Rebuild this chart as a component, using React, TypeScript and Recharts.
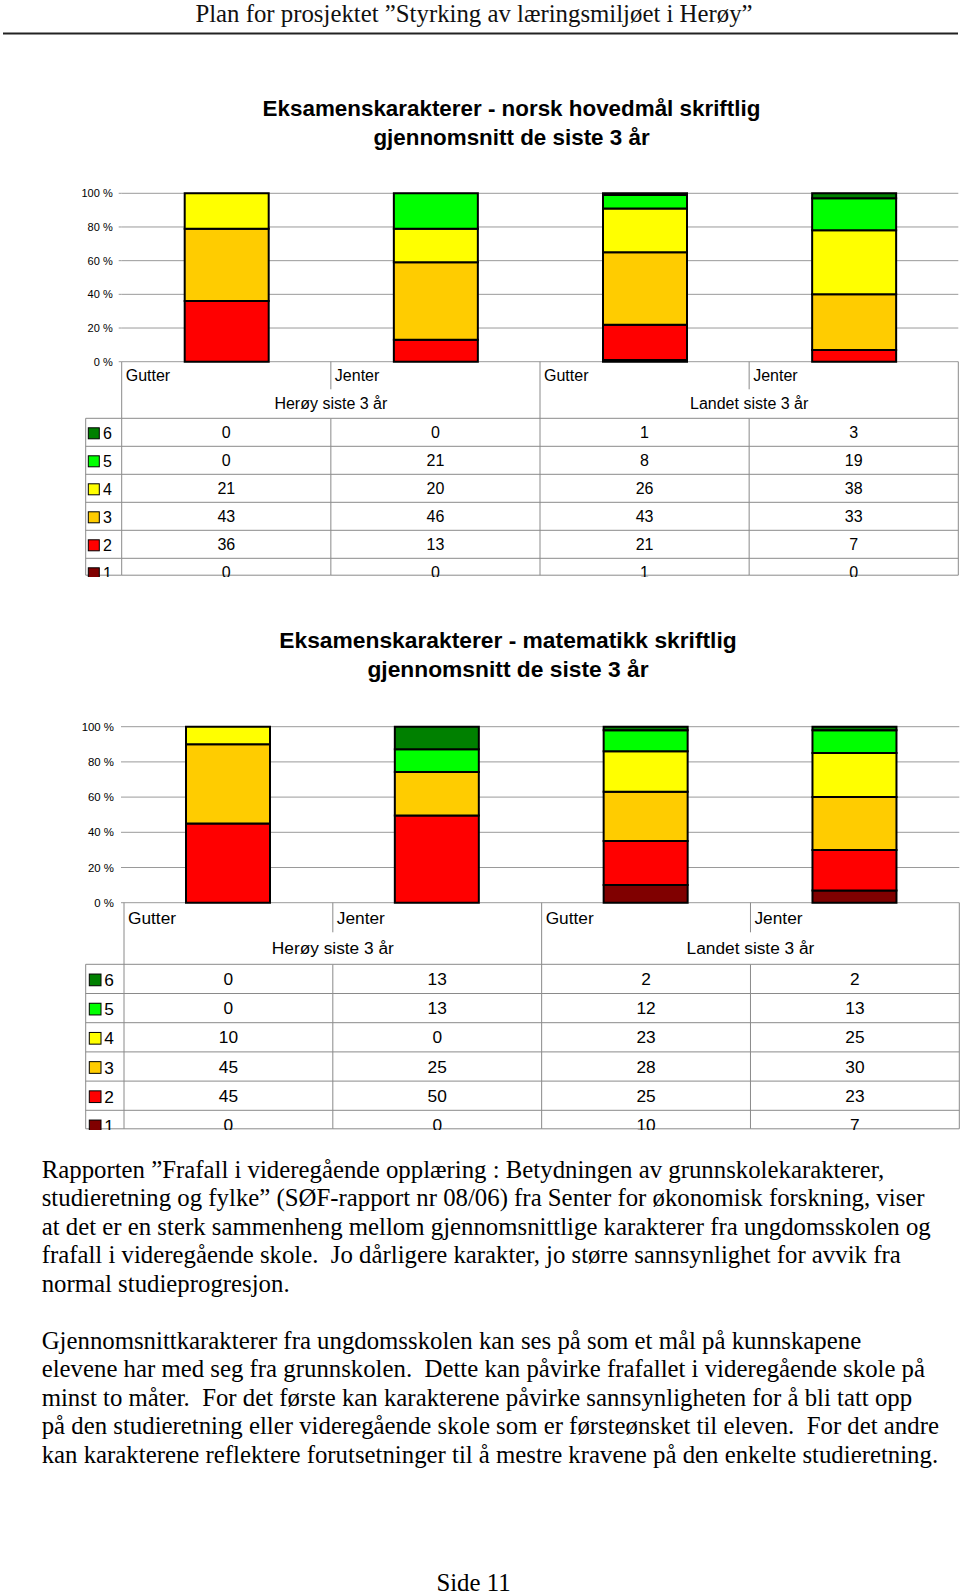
import React from 'react';
import { BarChart, Bar, XAxis, YAxis, CartesianGrid } from 'recharts';

// ---------- data ----------
const categories = ['Gutter', 'Jenter', 'Gutter', 'Jenter'];
const groups = ['Herøy siste 3 år', 'Landet siste 3 år'];
const grades = ['6', '5', '4', '3', '2', '1'];
const yTicks = [0, 0.2, 0.4, 0.6, 0.8, 1];

// Norsk hovedmål skriftlig (per grade, per category)
const norsk6 = [0, 0, 1, 3];
const norsk5 = [0, 21, 8, 19];
const norsk4 = [21, 20, 26, 38];
const norsk3 = [43, 46, 43, 33];
const norsk2 = [36, 13, 21, 7];
const norsk1 = [0, 0, 1, 0];

// Matematikk skriftlig
const matte6 = [0, 13, 2, 2];
const matte5 = [0, 13, 12, 13];
const matte4 = [10, 0, 23, 25];
const matte3 = [45, 25, 28, 30];
const matte2 = [45, 50, 25, 23];
const matte1 = [0, 0, 10, 7];

const headerText = 'Plan for prosjektet \u201DStyrking av læringsmiljøet i Herøy\u201D';
const title1 = ['Eksamenskarakterer - norsk hovedmål skriftlig', 'gjennomsnitt de siste 3 år'];
const title2 = ['Eksamenskarakterer - matematikk skriftlig', 'gjennomsnitt de siste 3 år'];
const para1 = [
  'Rapporten \u201DFrafall i videregående opplæring : Betydningen av grunnskolekarakterer,',
  'studieretning og fylke\u201D (SØF-rapport nr 08/06) fra Senter for økonomisk forskning, viser',
  'at det er en sterk sammenheng mellom gjennomsnittlige karakterer fra ungdomsskolen og',
  'frafall i videregående skole.  Jo dårligere karakter, jo større sannsynlighet for avvik fra',
  'normal studieprogresjon.',
];
const para2 = [
  'Gjennomsnittkarakterer fra ungdomsskolen kan ses på som et mål på kunnskapene',
  'elevene har med seg fra grunnskolen.  Dette kan påvirke frafallet i videregående skole på',
  'minst to måter.  For det første kan karakterene påvirke sannsynligheten for å bli tatt opp',
  'på den studieretning eller videregående skole som er førsteønsket til eleven.  For det andre',
  'kan karakterene reflektere forutsetninger til å mestre kravene på den enkelte studieretning.',
];
const footerText = 'Side 11';

// ---------- styles ----------
const gradeColors: Record<string, string> = {
  '6': '#008000',
  '5': '#00FF00',
  '4': '#FFFF00',
  '3': '#FFCC00',
  '2': '#FF0000',
  '1': '#800000',
};
const SANS = '"Liberation Sans", Arial, sans-serif';
const SERIF = '"Liberation Serif", "Times New Roman", serif';
const GRID = '#9a9a9a';
const TABLE_LINE = '#8a8a8a';

type Cfg = {
  top: number;
  height: number;
  plotTop: number;
  plotBottom: number;
  plotLeft: number;
  plotRight: number;
  tableLeft: number;
  headerLabelDy: number;
  headerDivDy: number;
  groupLabelDy: number;
  tableTopDy: number;
  rowH: number;
  clipDy: number;
  font: number;
  tickFont: number;
  tickMargin: number;
  sqLeft: number;
  sq: number;
  digitX: number;
};

const cfg1: Cfg = {
  top: 180,
  height: 397,
  plotTop: 193.3,
  plotBottom: 361.7,
  plotLeft: 121.7,
  plotRight: 958.3,
  tableLeft: 85.7,
  headerLabelDy: 13.3,
  headerDivDy: 27.6,
  groupLabelDy: 41.3,
  tableTopDy: 56.6,
  rowH: 28,
  clipDy: 214,
  font: 16,
  tickFont: 11,
  tickMargin: 6,
  sqLeft: 88.3,
  sq: 11,
  digitX: 103,
};

const cfg2: Cfg = {
  top: 700,
  height: 430,
  plotTop: 726.7,
  plotBottom: 902.7,
  plotLeft: 124,
  plotRight: 959.3,
  tableLeft: 85.7,
  headerLabelDy: 15.3,
  headerDivDy: 29.6,
  groupLabelDy: 45.3,
  tableTopDy: 61.6,
  rowH: 29.2,
  clipDy: 226.6,
  font: 17.3,
  tickFont: 11.4,
  tickMargin: 7,
  sqLeft: 89.3,
  sq: 11.7,
  digitX: 104.3,
};

function buildData(g6: number[], g5: number[], g4: number[], g3: number[], g2: number[], g1: number[]) {
  return categories.map((c, i) => ({
    key: `${groups[Math.floor(i / 2)]}-${c}`,
    g1: g1[i],
    g2: g2[i],
    g3: g3[i],
    g4: g4[i],
    g5: g5[i],
    g6: g6[i],
  }));
}

const norskData = buildData(norsk6, norsk5, norsk4, norsk3, norsk2, norsk1);
const matteData = buildData(matte6, matte5, matte4, matte3, matte2, matte1);
const norskTable = [norsk6, norsk5, norsk4, norsk3, norsk2, norsk1];
const matteTable = [matte6, matte5, matte4, matte3, matte2, matte1];

function TableTick(props: any) {
  const { x, y, cfg, table } = props;
  const index: number = props.index ?? props.payload?.index ?? 0;
  const c: Cfg = cfg;
  const n = categories.length;
  const bw = (c.plotRight - c.plotLeft) / n;
  const left = x - bw / 2;
  const right = x + bw / 2;
  const tableTop = y + c.tableTopDy;
  const clipY = y + c.clipDy - 0.5;
  const els: React.ReactNode[] = [];
  const line = (k: string, x1: number, y1: number, x2: number, y2: number) =>
    els.push(<line key={k} x1={x1} y1={y1} x2={x2} y2={y2} stroke={TABLE_LINE} strokeWidth={1} />);

  els.push(
    <text key="lab" x={left + 4} y={y + c.headerLabelDy} fontSize={c.font} fontFamily={SANS} fill="#000" dominantBaseline="central" textAnchor="start">
      {categories[index]}
    </text>
  );
  for (let k = 0; k < grades.length; k++) {
    line(`h${k}`, left, tableTop + k * c.rowH, right, tableTop + k * c.rowH);
  }
  line('hb', left, clipY, right, clipY);

  if (index % 2 === 0) {
    line('vl', left, y, left, clipY);
    line('vi1', right, y, right, y + c.headerDivDy);
    line('vi2', right, tableTop, right, clipY);
    els.push(
      <text key="grp" x={right} y={y + c.groupLabelDy} fontSize={c.font} fontFamily={SANS} fill="#000" dominantBaseline="central" textAnchor="middle">
        {groups[Math.floor(index / 2)]}
      </text>
    );
  }
  if (index === n - 1) {
    line('vr', right, y, right, clipY);
  }
  grades.forEach((g, r) => {
    els.push(
      <text key={`v${r}`} x={x} y={tableTop + r * c.rowH + c.rowH / 2} fontSize={c.font} fontFamily={SANS} fill="#000" dominantBaseline="central" textAnchor="middle">
        {table[r][index]}
      </text>
    );
  });
  if (index === 0) {
    const tl = c.tableLeft;
    line('lv', tl, tableTop, tl, clipY);
    for (let k = 0; k < grades.length; k++) {
      line(`lh${k}`, tl, tableTop + k * c.rowH, left, tableTop + k * c.rowH);
    }
    line('lhb', tl, clipY, left, clipY);
    grades.forEach((g, r) => {
      const cy = tableTop + r * c.rowH + c.rowH / 2 + 1;
      els.push(
        <rect key={`sq${r}`} x={c.sqLeft} y={cy - c.sq / 2} width={c.sq} height={c.sq} fill={gradeColors[g]} stroke="#000" strokeWidth={1} />
      );
      els.push(
        <text key={`d${r}`} x={c.digitX} y={cy} fontSize={c.font} fontFamily={SANS} fill="#000" dominantBaseline="central" textAnchor="start">
          {g}
        </text>
      );
    });
  }
  return <g>{els}</g>;
}

function GradeChart({ cfg, data, table }: { cfg: Cfg; data: any[]; table: number[][] }) {
  const plotTopLocal = cfg.plotTop - cfg.top;
  const plotBottomLocal = cfg.plotBottom - cfg.top;
  const xAxisHeight = cfg.height - plotBottomLocal;
  return (
    <div style={{ position: 'absolute', left: 0, top: cfg.top, width: 960, height: cfg.height, overflow: 'hidden' }}>
      <BarChart
        width={960}
        height={cfg.height}
        data={data}
        stackOffset="expand"
        margin={{ top: plotTopLocal, right: 960 - cfg.plotRight, bottom: 0, left: 0 }}
      >
        <CartesianGrid vertical={false} stroke={GRID} strokeWidth={1} />
        <XAxis
          dataKey="key"
          type="category"
          height={xAxisHeight}
          axisLine={false}
          tickLine={false}
          tickSize={0}
          tickMargin={0}
          interval={0}
          tick={(p: any) => <TableTick {...p} cfg={cfg} table={table} />}
        />
        <YAxis
          width={cfg.plotLeft}
          domain={[0, 1]}
          ticks={yTicks}
          tickFormatter={(v: number) => `${Math.round(v * 100)} %`}
          axisLine={false}
          tickLine={{ stroke: GRID }}
          tickSize={3}
          tickMargin={cfg.tickMargin}
          tick={{ fontSize: cfg.tickFont, fontFamily: SANS, fill: '#000' }}
        />
        {['1', '2', '3', '4', '5', '6'].map((g) => (
          <Bar
            key={g}
            dataKey={`g${g}`}
            stackId="s"
            fill={gradeColors[g]}
            stroke="#000"
            strokeWidth={2}
            barSize={84}
            isAnimationActive={false}
          />
        ))}
      </BarChart>
    </div>
  );
}

export default function App() {
  const bodyY0 = 1169.3;
  const lh = 28.5;
  return (
    <div style={{ position: 'absolute', left: 0, top: 0, width: 960, height: 1593, background: '#fff', overflow: 'hidden' }}>
      <svg width={960} height={1593} style={{ position: 'absolute', left: 0, top: 0 }}>
        <text x={474} y={13.5} fontSize={24.8} fontFamily={SERIF} fill="#111" textAnchor="middle" dominantBaseline="central">
          {headerText}
        </text>
        <line x1={3} y1={33.5} x2={958} y2={33.5} stroke="#222" strokeWidth={2} />
        {title1.map((t, i) => (
          <text key={`t1${i}`} x={511.5} y={108.7 + i * 28.3} fontSize={22.4} fontWeight="bold" fontFamily={SANS} fill="#000" textAnchor="middle" dominantBaseline="central">
            {t}
          </text>
        ))}
        {title2.map((t, i) => (
          <text key={`t2${i}`} x={508} y={640 + i * 28.5} fontSize={22.8} fontWeight="bold" fontFamily={SANS} fill="#000" textAnchor="middle" dominantBaseline="central">
            {t}
          </text>
        ))}
        {para1.map((t, i) => (
          <text key={`p1${i}`} x={41.7} y={bodyY0 + i * lh} fontSize={24.8} fontFamily={SERIF} fill="#000" dominantBaseline="central" xmlSpace="preserve" style={{ whiteSpace: 'pre' }}>
            {t}
          </text>
        ))}
        {para2.map((t, i) => (
          <text key={`p2${i}`} x={41.7} y={bodyY0 + (i + 6) * lh} fontSize={24.8} fontFamily={SERIF} fill="#000" dominantBaseline="central" xmlSpace="preserve" style={{ whiteSpace: 'pre' }}>
            {t}
          </text>
        ))}
        <text x={473.5} y={1582} fontSize={24.8} fontFamily={SERIF} fill="#000" textAnchor="middle" dominantBaseline="central">
          {footerText}
        </text>
      </svg>
      <GradeChart cfg={cfg1} data={norskData} table={norskTable} />
      <GradeChart cfg={cfg2} data={matteData} table={matteTable} />
    </div>
  );
}
